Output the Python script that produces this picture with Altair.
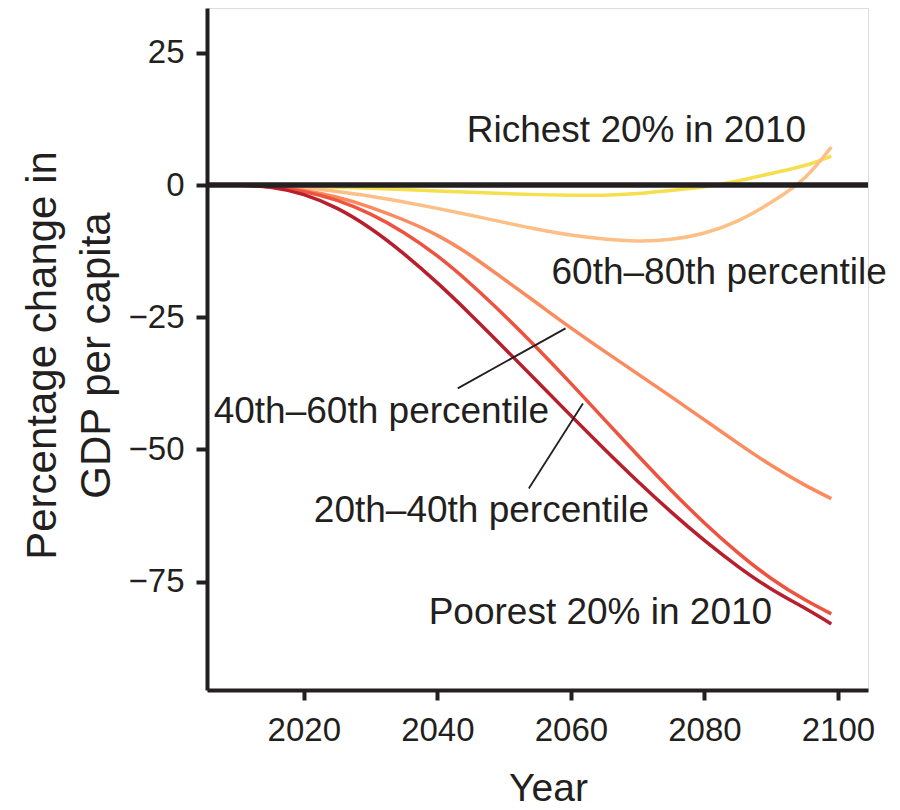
import altair as alt
import pandas as pd

years = [2010, 2015, 2020, 2025, 2030, 2035, 2040, 2045, 2050, 2055,
         2060, 2065, 2070, 2075, 2080, 2085, 2090, 2095, 2099]

richest = [0, -0.05, -0.2, -0.4, -0.6, -0.85, -1.1, -1.35, -1.6, -1.8,
           -1.9, -1.9, -1.6, -1.0, -0.3, 0.8, 2.2, 3.7, 5.5]
p60_80 = [0, -0.15, -0.5, -1.2, -2.1, -3.2, -4.4, -5.7, -7.05, -8.35,
          -9.45, -10.2, -10.55, -10.25, -9.05, -6.75, -3.25, 1.35, 7.2]
p40_60 = [0, -0.3, -1.0, -2.3, -4.2, -6.6, -9.5, -13.3, -17.8, -22.4,
          -27.0, -31.4, -35.7, -40.0, -44.4, -48.8, -53.0, -56.7, -59.3]
p20_40 = [0, -0.3, -1.2, -2.9, -5.5, -9.0, -13.4, -18.7, -24.6, -30.9,
          -37.5, -44.3, -51.1, -57.7, -63.9, -69.5, -74.4, -78.4, -81.1]
poorest = [0, -0.4, -1.8, -4.4, -8.2, -13.0, -18.5, -24.5, -30.8, -37.2,
           -43.6, -49.9, -56.0, -61.8, -67.2, -72.1, -76.4, -80.0, -83.0]

series_names = ["Richest", "60-80", "40-60", "20-40", "Poorest"]
series_values = [richest, p60_80, p40_60, p20_40, poorest]
series_colors = ["#f5df4d", "#fdbf85", "#fb8b5e", "#ee5340", "#b71f2d"]

x_ticks = [2020, 2040, 2060, 2080, 2100]
y_ticks = [25, 0, -25, -50, -75]

label_texts = ["Richest 20% in 2010", "60th\u201380th percentile",
               "40th\u201360th percentile", "20th\u201340th percentile",
               "Poorest 20% in 2010"]
label_x = [2044.4, 2057.1, 2006.5, 2021.5, 2038.7]
label_y = [10.2, -16.7, -43.0, -61.6, -80.9]

leader_x1 = [2043.05, 2053.7]
leader_y1 = [-38.45, -57.4]
leader_x2 = [2059.2, 2061.8]
leader_y2 = [-27.1, -41.3]

FONT = "Liberation Sans, Arial, Helvetica, sans-serif"
INK = "#231f20"
XDOM = [2005.5, 2104.5]
YDOM = [-95.5, 33.5]

rows = []
for name, vals in zip(series_names, series_values):
    for yr, v in zip(years, vals):
        rows.append({"year": yr, "value": v, "series": name})
df = pd.DataFrame(rows)

labels_df = pd.DataFrame({"text": label_texts, "x": label_x, "y": label_y})
leaders_df = pd.DataFrame({"x": leader_x1, "y": leader_y1, "x2": leader_x2, "y2": leader_y2})
zero_df = pd.DataFrame({"x": [XDOM[0]], "x2": [XDOM[1]], "y": [0]})

xscale = alt.Scale(domain=XDOM, nice=False, zero=False)
yscale = alt.Scale(domain=YDOM, nice=False, zero=False)

xaxis = alt.Axis(values=x_ticks, format="d", grid=False, title="Year",
                 titleFontSize=39, titleFont=FONT, titleColor=INK, titleFontWeight="normal",
                 titleX=341, titleY=110, titleBaseline="alphabetic", titleAlign="center",
                 labelFontSize=33, labelFont=FONT, labelColor=INK, labelPadding=14,
                 tickSize=10, tickWidth=4, tickColor=INK,
                 domainWidth=4, domainColor=INK, labelFlush=False)
yaxis = alt.Axis(values=y_ticks, grid=False,
                 title=["Percentage change in", "GDP per capita"],
                 titleFontSize=42, titleFont=FONT, titleColor=INK, titleFontWeight="normal",
                 titleAngle=270, titleBaseline="alphabetic", titleAlign="center",
                 titleX=-152, titleY=347, titleLineHeight=54,
                 labelFontSize=33, labelFont=FONT, labelColor=INK, labelPadding=12,
                 tickSize=11, tickWidth=4, tickColor=INK,
                 domainWidth=4, domainColor=INK, labelFlush=False)

lines = alt.Chart(df).mark_line(strokeWidth=3.5, interpolate="natural", clip=True).encode(
    x=alt.X("year:Q", scale=xscale, axis=xaxis),
    y=alt.Y("value:Q", scale=yscale, axis=yaxis),
    color=alt.Color("series:N", scale=alt.Scale(domain=series_names, range=series_colors), legend=None),
    detail="series:N",
)

zero = alt.Chart(zero_df).mark_rule(color=INK, strokeWidth=5.5).encode(
    x="x:Q", x2="x2:Q", y="y:Q"
)

leaders = alt.Chart(leaders_df).mark_rule(color=INK, strokeWidth=1.8).encode(
    x="x:Q", y="y:Q", x2="x2:Q", y2="y2:Q"
)

labels = alt.Chart(labels_df).mark_text(
    align="left", baseline="middle", fontSize=37, font=FONT, color=INK
).encode(x="x:Q", y="y:Q", text="text:N")

chart = alt.layer(lines, zero, leaders, labels).properties(
    width=661, height=682,
    autosize=alt.AutoSizeParams(type="none"),
    padding={"left": 199, "top": 0, "right": 24, "bottom": 118},
).configure_view(stroke=None).configure(background="white")

chart.save("out.html", embed_options={"renderer": "svg", "actions": False})
